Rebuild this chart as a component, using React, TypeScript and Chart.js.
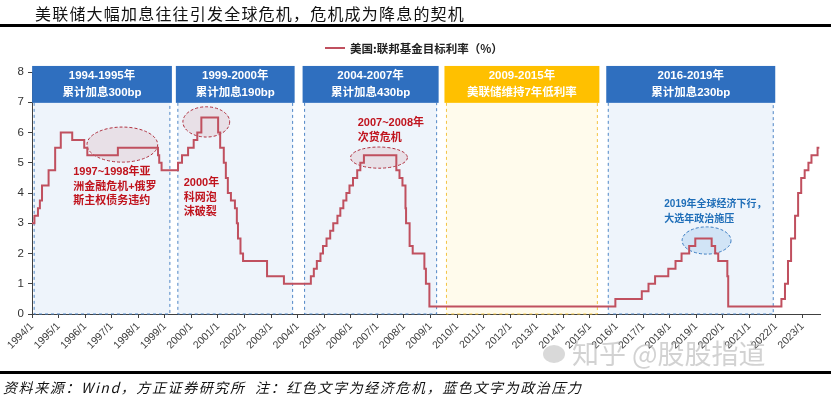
import React, { useEffect, useRef } from "react";
import { Chart, registerables } from "chart.js";

Chart.register(...registerables);

// ---- data ----
const changeDates = [
  "1994/01/01", "1994/02/04", "1994/03/22", "1994/04/18", "1994/05/17", "1994/08/16", "1994/11/15",
  "1995/02/01", "1995/07/06", "1995/12/19", "1996/01/31", "1997/03/25",
  "1998/09/29", "1998/10/15", "1998/11/17",
  "1999/06/30", "1999/08/24", "1999/11/16", "2000/02/02", "2000/03/21", "2000/05/16",
  "2001/01/03", "2001/01/31", "2001/03/20", "2001/04/18", "2001/05/15", "2001/06/27",
  "2001/08/21", "2001/09/17", "2001/10/02", "2001/11/06", "2001/12/11",
  "2002/11/06", "2003/06/25",
  "2004/06/30", "2004/08/10", "2004/09/21", "2004/11/10", "2004/12/14",
  "2005/02/02", "2005/03/22", "2005/05/03", "2005/06/30", "2005/08/09", "2005/09/20", "2005/11/01", "2005/12/13",
  "2006/01/31", "2006/03/28", "2006/05/10", "2006/06/29",
  "2007/09/18", "2007/10/31", "2007/12/11",
  "2008/01/22", "2008/01/30", "2008/03/18", "2008/04/30", "2008/10/08", "2008/10/29", "2008/12/16",
  "2015/12/16", "2016/12/14", "2017/03/15", "2017/06/14", "2017/12/13",
  "2018/03/21", "2018/06/13", "2018/09/26", "2018/12/19",
  "2019/07/31", "2019/09/18", "2019/10/30", "2020/03/03", "2020/03/15",
  "2022/03/16", "2022/05/04", "2022/06/15", "2022/07/27", "2022/09/21", "2022/11/02", "2022/12/14",
  "2023/02/01", "2023/03/22", "2023/05/03", "2023/07/26", "2023/08/20",
];
const fedRates = [
  3.0, 3.25, 3.5, 3.75, 4.25, 4.75, 5.5,
  6.0, 5.75, 5.5, 5.25, 5.5,
  5.25, 5.0, 4.75,
  5.0, 5.25, 5.5, 5.75, 6.0, 6.5,
  6.0, 5.5, 5.0, 4.5, 4.0, 3.75,
  3.5, 3.0, 2.5, 2.0, 1.75,
  1.25, 1.0,
  1.25, 1.5, 1.75, 2.0, 2.25,
  2.5, 2.75, 3.0, 3.25, 3.5, 3.75, 4.0, 4.25,
  4.5, 4.75, 5.0, 5.25,
  4.75, 4.5, 4.25,
  3.5, 3.0, 2.25, 2.0, 1.5, 1.0, 0.25,
  0.5, 0.75, 1.0, 1.25, 1.5,
  1.75, 2.0, 2.25, 2.5,
  2.25, 2.0, 1.75, 1.25, 0.25,
  0.5, 1.0, 1.75, 2.5, 3.25, 4.0, 4.5,
  4.75, 5.0, 5.25, 5.5, 5.5,
];
const tickYears = [
  1994, 1995, 1996, 1997, 1998, 1999, 2000, 2001, 2002, 2003, 2004, 2005, 2006, 2007, 2008,
  2009, 2010, 2011, 2012, 2013, 2014, 2015, 2016, 2017, 2018, 2019, 2020, 2021, 2022, 2023,
];
const xTickLabels = [
  "1994/1", "1995/1", "1996/1", "1997/1", "1998/1", "1999/1", "2000/1", "2001/1", "2002/1", "2003/1",
  "2004/1", "2005/1", "2006/1", "2007/1", "2008/1", "2009/1", "2010/1", "2011/1", "2012/1", "2013/1",
  "2014/1", "2015/1", "2016/1", "2017/1", "2018/1", "2019/1", "2020/1", "2021/1", "2022/1", "2023/1",
];
const yTickValues = [0, 1, 2, 3, 4, 5, 6, 7, 8];

const seriesName = "美国:联邦基金目标利率（%）";
const titleText = "美联储大幅加息往往引发全球危机，危机成为降息的契机";
const footerText = "资料来源：Wind，方正证券研究所  注：红色文字为经济危机，蓝色文字为政治压力";

// period boxes (x in decimal years)
const periodStarts = [1994.08, 1999.49, 2004.26, 2009.6, 2015.69];
const periodEnds = [1999.19, 2003.81, 2009.23, 2015.28, 2021.9];
const periodLine1 = ["1994-1995年", "1999-2000年", "2004-2007年", "2009-2015年", "2016-2019年"];
const periodLine2 = ["累计加息300bp", "累计加息190bp", "累计加息430bp", "美联储维持7年低利率", "累计加息230bp"];
const periodKinds = ["hike", "hike", "hike", "low", "hike"];

// annotations (data coords)
const ellipses = [
  { cx: 1997.4, cy: 5.6, rx: 1.33, ry: 0.58, kind: "red" },
  { cx: 2000.56, cy: 6.35, rx: 0.88, ry: 0.5, kind: "red" },
  { cx: 2007.06, cy: 5.17, rx: 1.07, ry: 0.35, kind: "red" },
  { cx: 2019.39, cy: 2.43, rx: 0.92, ry: 0.45, kind: "blue" },
];
const notes = [
  { x: 1995.55, y: 4.69, lines: ["1997~1998年亚", "洲金融危机+俄罗", "斯主权债务违约"], kind: "red" },
  { x: 1999.71, y: 4.33, lines: ["2000年", "科网泡", "沫破裂"], kind: "red" },
  { x: 2006.26, y: 6.31, lines: ["2007~2008年", "次贷危机"], kind: "red" },
  { x: 2017.8, y: 3.64, lines: ["2019年全球经济下行，", "大选年政治施压"], kind: "blue" },
];

const LINE_COLOR = "#C0505F";
const HEADER_BLUE = "#2F6FBF";
const HEADER_YELLOW = "#FFC000";

function toYear(s: string): number {
  const [y, m, d] = s.split("/").map(Number);
  return y + (m - 1) / 12 + (d - 1) / 365;
}

const overlayPlugin = {
  id: "overlay",
  beforeDatasetsDraw(chart: any) {
    const { ctx } = chart;
    const x = chart.scales.x;
    const y = chart.scales.y;
    ctx.save();
    const bottom = y.getPixelForValue(0);
    const headTop = y.getPixelForValue(8.2);
    const headBottom = y.getPixelForValue(6.98);
    periodStarts.forEach((s, i) => {
      const l = x.getPixelForValue(s);
      const r = x.getPixelForValue(periodEnds[i]);
      const low = periodKinds[i] === "low";
      ctx.fillStyle = low ? "#FFFBEC" : "#EEF4FB";
      ctx.fillRect(l, headBottom, r - l, bottom - headBottom);
      ctx.setLineDash([3, 3]);
      ctx.lineWidth = 1;
      ctx.strokeStyle = low ? "#F3C443" : "#4F86C6";
      ctx.beginPath();
      ctx.moveTo(l, headBottom);
      ctx.lineTo(l, bottom);
      ctx.lineTo(r, bottom);
      ctx.lineTo(r, headBottom);
      ctx.stroke();
      ctx.setLineDash([]);
      ctx.fillStyle = low ? HEADER_YELLOW : HEADER_BLUE;
      ctx.fillRect(l - 2, headTop, r - l + 4, headBottom - headTop);
      const cx = (l + r) / 2;
      const h = headBottom - headTop;
      ctx.fillStyle = "#FFFFFF";
      ctx.textAlign = "center";
      ctx.textBaseline = "middle";
      ctx.font = 'bold 11.5px "Liberation Sans", "Noto Sans CJK SC", sans-serif';
      ctx.fillText(periodLine1[i], cx, headTop + h * 0.28);
      ctx.fillText(periodLine2[i], cx, headTop + h * 0.73);
    });
    ellipses.forEach((e) => {
      const cx = x.getPixelForValue(e.cx);
      const cy = y.getPixelForValue(e.cy);
      const rx = Math.abs(x.getPixelForValue(e.cx + e.rx) - cx);
      const ry = Math.abs(y.getPixelForValue(e.cy + e.ry) - cy);
      ctx.beginPath();
      ctx.ellipse(cx, cy, rx, ry, 0, 0, Math.PI * 2);
      ctx.fillStyle = e.kind === "red" ? "rgba(215,165,170,0.25)" : "rgba(150,195,235,0.32)";
      ctx.fill();
      ctx.setLineDash([3, 2]);
      ctx.lineWidth = 1;
      ctx.strokeStyle = e.kind === "red" ? "#B0303F" : "#3A7CC2";
      ctx.stroke();
      ctx.setLineDash([]);
    });
    ctx.restore();
  },
  afterDatasetsDraw(chart: any) {
    const { ctx } = chart;
    const x = chart.scales.x;
    const y = chart.scales.y;
    ctx.save();
    ctx.textAlign = "left";
    ctx.textBaseline = "middle";
    notes.forEach((n) => {
      const px = x.getPixelForValue(n.x);
      const py = y.getPixelForValue(n.y);
      const red = n.kind === "red";
      ctx.fillStyle = red ? "#C0141E" : "#1F6EB8";
      ctx.font = red
        ? 'bold 11px "Liberation Sans", "Noto Sans CJK SC", sans-serif'
        : 'bold 10px "Liberation Sans", "Noto Sans CJK SC", sans-serif';
      const lh = red ? 14.5 : 15;
      n.lines.forEach((t, k) => ctx.fillText(t, px, py + k * lh));
    });
    ctx.restore();
  },
};

export default function App() {
  const ref = useRef<HTMLCanvasElement | null>(null);
  useEffect(() => {
    if (!ref.current) return;
    const points = changeDates.map((d, i) => ({ x: toYear(d), y: fedRates[i] }));
    const chart = new Chart(ref.current, {
      type: "line",
      data: {
        datasets: [
          {
            label: seriesName,
            data: points,
            stepped: true,
            borderColor: LINE_COLOR,
            borderWidth: 2,
            pointRadius: 0,
            fill: false,
          },
        ],
      },
      options: {
        animation: false,
        responsive: true,
        maintainAspectRatio: false,
        layout: { padding: { top: 72, right: 11, left: 0, bottom: 0 } },
        plugins: { legend: { display: false }, tooltip: { enabled: false }, title: { display: false } },
        scales: {
          x: {
            type: "linear",
            min: 1994,
            max: 2023.66,
            afterBuildTicks: (s: any) => {
              s.ticks = tickYears.map((v) => ({ value: v }));
            },
            afterFit: (s: any) => {
              s.height = 86;
            },
            ticks: {
              autoSkip: false,
              minRotation: 45,
              maxRotation: 45,
              padding: 2,
              color: "#404040",
              font: { size: 10.5, family: '"Liberation Sans", Arial, sans-serif' },
              callback: (_v: any, i: number) => xTickLabels[i],
            },
            grid: { drawOnChartArea: false, drawTicks: true, tickLength: 4, color: "#404040" },
            border: { display: true, color: "#404040", width: 1 },
          },
          y: {
            min: 0,
            max: 8,
            afterBuildTicks: (s: any) => {
              s.ticks = yTickValues.map((v) => ({ value: v }));
            },
            afterFit: (s: any) => {
              s.width = 32;
            },
            ticks: {
              padding: 4,
              color: "#333333",
              font: { size: 11.5, family: '"Liberation Sans", Arial, sans-serif' },
            },
            grid: { drawOnChartArea: false, drawTicks: true, tickLength: 4, color: "#404040" },
            border: { display: true, color: "#404040", width: 1 },
          },
        },
      },
      plugins: [overlayPlugin],
    });
    return () => chart.destroy();
  }, []);

  const cjk = '"Noto Sans CJK SC", "Noto Sans", sans-serif';
  return (
    <div style={{ position: "fixed", left: 0, top: 0, width: 831, height: 400, background: "#fff", overflow: "hidden" }}>
      <canvas ref={ref} style={{ position: "absolute", left: 0, top: 0, width: 831, height: 400 }} />
      <div style={{ position: "absolute", left: 35, top: 2, fontFamily: cjk, fontSize: 16, letterSpacing: 1.2, color: "#111", whiteSpace: "nowrap", lineHeight: "22px" }}>
        {titleText}
      </div>
      <div style={{ position: "absolute", left: 0, top: 24, width: 831, height: 2.5, background: "#000" }} />
      <div style={{ position: "absolute", left: 325, top: 47, width: 20, height: 2, background: LINE_COLOR }} />
      <div style={{ position: "absolute", left: 350, top: 39, fontFamily: cjk, fontSize: 11.5, fontWeight: 700, color: "#222", whiteSpace: "nowrap", lineHeight: "18px" }}>
        {seriesName}
      </div>
      <div style={{ position: "absolute", left: 543, top: 345, width: 22, height: 18, borderRadius: "50%", background: "rgba(170,170,170,0.45)" }} />
      <div style={{ position: "absolute", left: 572, top: 336, fontFamily: cjk, fontSize: 27, color: "rgba(165,165,165,0.5)", whiteSpace: "nowrap", lineHeight: "34px" }}>
        知乎 @股股指道
      </div>
      <div style={{ position: "absolute", left: 0, top: 371, width: 831, height: 3, background: "#000" }} />
      <div style={{ position: "absolute", left: 3, top: 377, fontFamily: cjk, fontSize: 14, fontStyle: "italic", letterSpacing: 1.6, color: "#111", whiteSpace: "pre", lineHeight: "20px" }}>
        {footerText}
      </div>
    </div>
  );
}
